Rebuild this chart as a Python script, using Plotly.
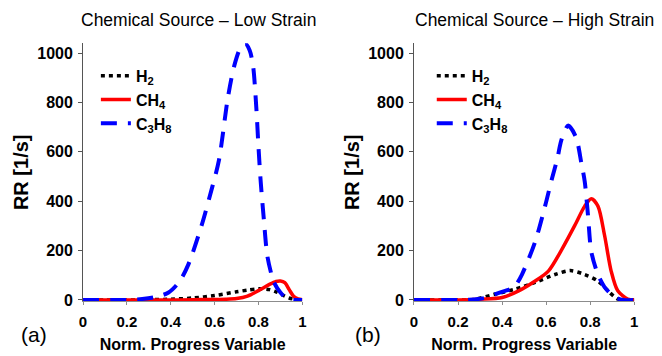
import plotly.graph_objects as go

# ---------------- data ----------------
# Low strain (panel a)
low_h2_x = [0, 0.1, 0.2, 0.3, 0.4, 0.5, 0.6, 0.7, 0.75, 0.8, 0.85, 0.88, 0.91, 0.94, 0.97, 1.0]
low_h2_y = [0, 0, 0, 1, 3, 8, 18, 33, 40, 45, 42, 33, 20, 8, 2, 0]

low_ch4_x = [0, 0.2, 0.4, 0.5, 0.6, 0.65, 0.7, 0.75, 0.8, 0.85, 0.88, 0.9, 0.92, 0.94, 0.96, 0.98, 1.0]
low_ch4_y = [0, 0, 0, 1, 2, 3, 6, 16, 38, 63, 75, 77, 70, 42, 15, 4, 1]

low_c3h8_x = [0, 0.2, 0.27, 0.33, 0.39, 0.44, 0.48, 0.54, 0.59, 0.62, 0.66, 0.69, 0.72, 0.74,
              0.76, 0.775, 0.79, 0.80, 0.81, 0.825, 0.84, 0.86, 0.87, 0.90, 0.93, 0.96, 1.0]
low_c3h8_y = [0, 0, 4, 12, 30, 75, 143, 300, 460, 567, 817, 950, 1025, 1038,
              1010, 950, 780, 620, 480, 320, 180, 100, 72, 30, 5, 0, 0]

# High strain (panel b)
high_h2_x = [0, 0.2, 0.27, 0.37, 0.46, 0.55, 0.64, 0.71, 0.775, 0.835, 0.886, 0.924, 0.95, 1.0]
high_h2_y = [0, 0, 2, 24, 44, 71, 103, 119, 103, 77, 32, 4, 0, 0]

high_ch4_x = [0, 0.2, 0.3, 0.4, 0.475, 0.55, 0.61, 0.67, 0.73, 0.775, 0.805, 0.835, 0.865,
              0.895, 0.925, 0.97, 1.0]
high_ch4_y = [0, 0, 3, 10, 37, 77, 117, 203, 302, 380, 410, 380, 262, 117, 37, 4, 0]

high_c3h8_x = [0, 0.2, 0.25, 0.32, 0.37, 0.41, 0.44, 0.46, 0.49, 0.55, 0.595, 0.625, 0.65,
               0.67, 0.70, 0.735, 0.76, 0.775, 0.79, 0.805, 0.835, 0.865, 0.91, 0.95, 1.0]
high_c3h8_y = [0, 0, 1, 8, 24, 36, 45, 58, 103, 236, 380, 487, 570, 650, 706, 660, 553, 480,
               341, 195, 103, 52, 12, 0, 0]

x_ticks = [0, 0.2, 0.4, 0.6, 0.8, 1]
x_ticklabels = ["0", "0.2", "0.4", "0.6", "0.8", "1"]
y_ticks = [0, 200, 400, 600, 800, 1000]

species = ["H<sub>2</sub>", "CH<sub>4</sub>", "C<sub>3</sub>H<sub>8</sub>"]
titles = ["Chemical Source – Low Strain", "Chemical Source – High Strain"]
panel_labels = ["(a)", "(b)"]

# ---------------- figure ----------------
FONT = "Arial, Liberation Sans, sans-serif"
styles = [
    dict(color="#000000", width=3.5, dash="4px,4px"),
    dict(color="#FF0000", width=3.5, dash="solid"),
    dict(color="#0000FF", width=4, dash="16px,11px"),
]

fig = go.Figure()
panels = [
    ([low_h2_x, low_ch4_x, low_c3h8_x], [low_h2_y, low_ch4_y, low_c3h8_y], "x", "y", "legend"),
    ([high_h2_x, high_ch4_x, high_c3h8_x], [high_h2_y, high_ch4_y, high_c3h8_y], "x2", "y2", "legend2"),
]
for xs, ys, xa, ya, lg in panels:
    for name, xv, yv, st in zip(species, xs, ys, styles):
        fig.add_trace(go.Scatter(
            x=xv, y=yv, name=name, mode="lines", xaxis=xa, yaxis=ya, legend=lg,
            line=dict(color=st["color"], width=st["width"], dash=st["dash"],
                      shape="spline", smoothing=0.8),
        ))

W, H = 662, 356
xdoms = [[80 / W, 302 / W], [415 / W, 638 / W]]
ydom = [(H - 307.5) / H, (H - 44) / H]

axis_common_x = dict(range=[0, 1], tickvals=x_ticks, ticktext=x_ticklabels, showline=True,
                     linecolor="#8c8c8c", linewidth=1, ticks="outside", ticklen=3,
                     tickcolor="#8c8c8c", showgrid=False, zeroline=False, ticklabelstandoff=4,
                     tickfont=dict(family=FONT, size=15, color="#000000", weight="bold"),
                     title=dict(text="Norm. Progress Variable", standoff=9,
                                font=dict(family=FONT, size=16, color="#000000", weight="bold")))
axis_common_y = dict(range=[-6, 1040], tickvals=y_ticks, showline=True, linecolor="#555555",
                     linewidth=1, ticks="outside", ticklen=4, tickcolor="#555555",
                     showgrid=False, zeroline=False, ticklabelstandoff=2,
                     tickfont=dict(family=FONT, size=16, color="#000000", weight="bold"),
                     title=dict(text="RR [1/s]", standoff=3,
                                font=dict(family=FONT, size=20, color="#000000", weight="bold")))

fig.update_layout(
    width=W, height=H, margin=dict(l=0, r=0, t=0, b=0),
    paper_bgcolor="white", plot_bgcolor="white",
    xaxis=dict(domain=xdoms[0], anchor="y", **axis_common_x),
    yaxis=dict(domain=ydom, anchor="x", **axis_common_y),
    xaxis2=dict(domain=xdoms[1], anchor="y2", **axis_common_x),
    yaxis2=dict(domain=ydom, anchor="x2", **axis_common_y),
    legend=dict(x=93 / W, y=(H - 60) / H, xanchor="left", yanchor="top",
                bgcolor="rgba(0,0,0,0)", font=dict(family=FONT, size=16, color="#000000", weight="bold"),
                itemwidth=30, tracegroupgap=0),
    legend2=dict(x=433 / W, y=(H - 60) / H, xanchor="left", yanchor="top",
                 bgcolor="rgba(0,0,0,0)", font=dict(family=FONT, size=16, color="#000000", weight="bold"),
                 itemwidth=30, tracegroupgap=0),
    showlegend=True,
)

annots = []
for t, cx in zip(titles, [197, 537]):
    annots.append(dict(text=t, x=cx / W, y=(H - 20) / H, xref="paper", yref="paper",
                       showarrow=False, xanchor="center", yanchor="middle",
                       font=dict(family=FONT, size=17.5, color="#000000")))
for lbl, cx in zip(panel_labels, [30, 368]):
    annots.append(dict(text=lbl, x=cx / W, y=(H - 341) / H, xref="paper", yref="paper",
                       showarrow=False, xanchor="center", yanchor="middle",
                       font=dict(family=FONT, size=21, color="#000000")))
fig.update_layout(annotations=annots)

fig.write_html("out.html")
